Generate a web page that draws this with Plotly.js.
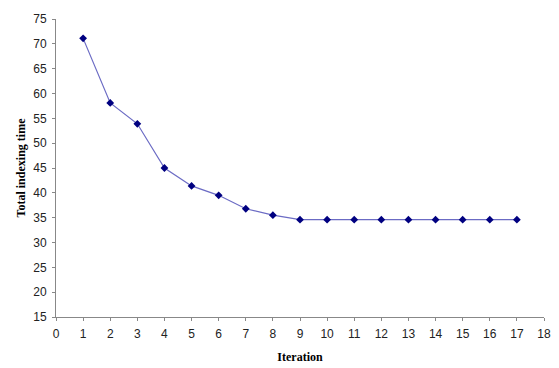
<!DOCTYPE html>
<html>
<head>
<meta charset="utf-8">
<script src="https://cdn.plot.ly/plotly-3.0.1.min.js"></script>
<style>html,body{margin:0;padding:0;background:#fff;}#chart{width:559px;height:368px;}</style>
</head>
<body>
<div id="chart"></div>
<script>
const iterations = [1, 2, 3, 4, 5, 6, 7, 8, 9, 10, 11, 12, 13, 14, 15, 16, 17];
const indexingTime = [71.1, 58.1, 53.9, 45.0, 41.4, 39.5, 36.8, 35.5, 34.6, 34.6, 34.6, 34.6, 34.6, 34.6, 34.6, 34.6, 34.6];

const trace = {
  x: iterations,
  y: indexingTime,
  type: 'scatter',
  mode: 'lines+markers',
  line: {color: '#6b6bc4', width: 1.2},
  marker: {symbol: 'diamond', size: 6, color: '#000080'},
  hoverinfo: 'skip'
};

const axisFont = {family: 'Liberation Sans, Arial, sans-serif', size: 12, color: '#222'};
const titleFont = {family: 'Liberation Serif, Times New Roman, serif', size: 12, color: '#000', weight: 'bold'};
const layout = {
  width: 559, height: 368,
  margin: {l: 56, r: 15, t: 19, b: 51},
  paper_bgcolor: '#fff', plot_bgcolor: '#fff',
  showlegend: false,
  xaxis: {
    range: [0, 18], dtick: 1, tick0: 0,
    showgrid: false, zeroline: false,
    showline: true, linecolor: '#888', linewidth: 1,
    ticks: 'outside', ticklen: 3, tickcolor: '#888',
    ticklabelstandoff: 3,
    tickfont: axisFont,
    title: {text: 'Iteration', font: titleFont, standoff: 12}
  },
  yaxis: {
    range: [15, 75], dtick: 5, tick0: 15,
    showgrid: false, zeroline: false,
    showline: true, linecolor: '#888', linewidth: 1,
    ticks: 'outside', ticklen: 3, tickcolor: '#888',
    ticklabelstandoff: 3,
    tickfont: axisFont,
    title: {text: 'Total indexing time', font: titleFont, standoff: 5}
  }
};

Plotly.newPlot('chart', [trace], layout, {staticPlot: true, displayModeBar: false});
</script>
</body>
</html>
